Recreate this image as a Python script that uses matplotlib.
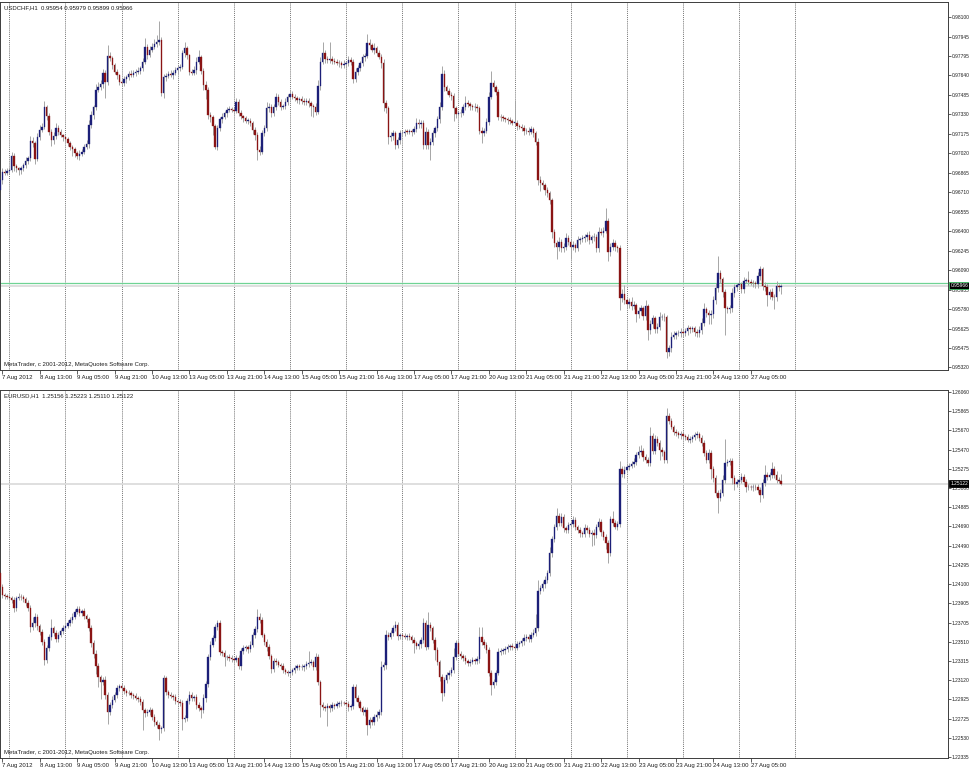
"""MetaTrader-style H1 candlestick panes for USDCHF and EURUSD, 7-27 Aug 2012."""

import matplotlib

matplotlib.use("Agg")
import matplotlib.pyplot as plt
import matplotlib.transforms as mtransforms
import numpy as np
import pandas as pd


# ---------------------------------------------------------------- data
FIRST_OPEN_CHF = 0.96729
CLOSE_CHF = [
    0.96808, 0.96874, 0.96866, 0.96882, 0.96888, 0.96999, 0.96919, 0.96901, 0.96888, 0.96901,
    0.96927, 0.96962, 0.96980, 0.97121, 0.97100, 0.96978, 0.97153, 0.97206, 0.97232, 0.97386,
    0.97317, 0.97192, 0.97126, 0.97158, 0.97224, 0.97192, 0.97166, 0.97147, 0.97131, 0.97100,
    0.97073, 0.97052, 0.97020, 0.96999, 0.97015, 0.97033, 0.97073, 0.97094, 0.97245, 0.97325,
    0.97386, 0.97524, 0.97545, 0.97571, 0.97661, 0.97590, 0.97794, 0.97775, 0.97722, 0.97669,
    0.97643, 0.97590, 0.97577, 0.97608, 0.97624, 0.97651, 0.97643, 0.97661, 0.97669, 0.97677,
    0.97696, 0.97749, 0.97868, 0.97802, 0.97842, 0.97868, 0.97889, 0.97908, 0.97921, 0.97497,
    0.97624, 0.97635, 0.97651, 0.97643, 0.97661, 0.97683, 0.97696, 0.97709, 0.97815, 0.97855,
    0.97802, 0.97669, 0.97661, 0.97683, 0.97749, 0.97783, 0.97677, 0.97563, 0.97524, 0.97325,
    0.97312, 0.97237, 0.97073, 0.97219, 0.97290, 0.97312, 0.97338, 0.97365, 0.97370, 0.97365,
    0.97359, 0.97431, 0.97343, 0.97317, 0.97298, 0.97280, 0.97280, 0.97264, 0.97206, 0.97166,
    0.97047, 0.97033, 0.97179, 0.97219, 0.97378, 0.97391, 0.97338, 0.97386, 0.97471, 0.97431,
    0.97391, 0.97396, 0.97431, 0.97465, 0.97492, 0.97471, 0.97457, 0.97444, 0.97449, 0.97439,
    0.97431, 0.97436, 0.97418, 0.97396, 0.97391, 0.97351, 0.97555, 0.97749, 0.97815, 0.97767,
    0.97762, 0.97767, 0.97757, 0.97749, 0.97741, 0.97736, 0.97722, 0.97730, 0.97736, 0.97762,
    0.97749, 0.97608, 0.97669, 0.97696, 0.97736, 0.97783, 0.97794, 0.97900, 0.97881, 0.97842,
    0.97855, 0.97820, 0.97789, 0.97736, 0.97418, 0.97378, 0.97147, 0.97158, 0.97179, 0.97086,
    0.97126, 0.97179, 0.97184, 0.97192, 0.97190, 0.97195, 0.97190, 0.97211, 0.97264, 0.97253,
    0.97264, 0.97086, 0.97192, 0.97086, 0.97113, 0.97179, 0.97219, 0.97290, 0.97386, 0.97651,
    0.97545, 0.97518, 0.97484, 0.97476, 0.97378, 0.97333, 0.97338, 0.97343, 0.97386, 0.97423,
    0.97412, 0.97396, 0.97386, 0.97391, 0.97378, 0.97200, 0.97184, 0.97200, 0.97272, 0.97471,
    0.97582, 0.97545, 0.97510, 0.97312, 0.97306, 0.97298, 0.97290, 0.97285, 0.97277, 0.97264,
    0.97264, 0.97237, 0.97232, 0.97224, 0.97195, 0.97200, 0.97192, 0.97211, 0.97179, 0.97113,
    0.96808, 0.96787, 0.96768, 0.96729, 0.96702, 0.96649, 0.96397, 0.96305, 0.96273, 0.96318,
    0.96265, 0.96278, 0.96344, 0.96318, 0.96278, 0.96291, 0.96265, 0.96331, 0.96336, 0.96344,
    0.96352, 0.96371, 0.96331, 0.96352, 0.96358, 0.96265, 0.96397, 0.96389, 0.96405, 0.96485,
    0.96238, 0.96278, 0.96310, 0.96273, 0.96265, 0.95867, 0.95902, 0.95854, 0.95822, 0.95841,
    0.95806, 0.95814, 0.95743, 0.95769, 0.95788, 0.95727, 0.95806, 0.95616, 0.95663, 0.95708,
    0.95621, 0.95642, 0.95716, 0.95722, 0.95716, 0.95443, 0.95470, 0.95563, 0.95576, 0.95589,
    0.95594, 0.95602, 0.95589, 0.95610, 0.95629, 0.95621, 0.95629, 0.95602, 0.95594, 0.95616,
    0.95674, 0.95780, 0.95748, 0.95735, 0.95743, 0.95854, 0.95947, 0.96071, 0.96018, 0.95920,
    0.95788, 0.95780, 0.95788, 0.95912, 0.95955, 0.95973, 0.95981, 0.95939, 0.96008, 0.96013,
    0.96000, 0.95992, 0.95987, 0.95981, 0.96045, 0.96098, 0.95965, 0.95955, 0.95894, 0.95920,
    0.95881, 0.95875, 0.95965, 0.95954, 0.95966,
]
# wick lengths beyond the body, in pips
UP_WICK_CHF = [
    1, 3, 2, 2, 2, 3, 2, 2, 1, 2, 2, 3, 2, 4, 3, 2, 3, 4, 3, 5,
    2, 2, 2, 3, 4, 2, 2, 1, 2, 2, 2, 1, 2, 2, 3, 2, 2, 3, 4, 3,
    2, 5, 4, 3, 3, 2, 9, 3, 2, 2, 2, 1, 2, 3, 2, 2, 3, 2, 2, 3,
    2, 3, 7, 2, 3, 3, 4, 5, 15, 2, 3, 2, 2, 3, 2, 2, 3, 2, 3, 5,
    2, 1, 2, 3, 4, 6, 2, 2, 3, 2, 2, 1, 2, 3, 2, 3, 2, 2, 3, 2,
    2, 3, 2, 2, 1, 2, 2, 2, 1, 2, 2, 3, 3, 3, 5, 3, 2, 3, 3, 2,
    2, 2, 3, 3, 3, 2, 2, 2, 2, 3, 2, 2, 2, 2, 2, 3, 5, 4, 9, 3,
    3, 14, 3, 2, 2, 2, 2, 3, 2, 3, 2, 2, 3, 3, 2, 3, 2, 7, 3, 2,
    4, 2, 2, 2, 3, 3, 2, 3, 3, 2, 2, 3, 2, 2, 2, 2, 2, 3, 4, 3,
    2, 2, 4, 2, 3, 3, 2, 3, 4, 6, 3, 2, 2, 2, 2, 2, 2, 3, 3, 5,
    2, 2, 2, 3, 2, 2, 3, 2, 3, 4, 9, 2, 2, 2, 2, 2, 1, 2, 2, 2,
    18, 2, 2, 2, 2, 2, 3, 3, 2, 2, 3, 3, 2, 2, 2, 2, 2, 2, 3, 4,
    2, 3, 4, 3, 2, 3, 2, 3, 2, 3, 3, 2, 3, 2, 3, 2, 4, 3, 3, 10,
    2, 3, 3, 2, 2, 3, 4, 7, 2, 3, 4, 3, 2, 3, 3, 2, 5, 2, 3, 3,
    2, 3, 4, 2, 3, 2, 3, 4, 3, 2, 2, 3, 2, 2, 3, 2, 2, 2, 2, 3,
    4, 5, 2, 3, 3, 3, 4, 13, 2, 2, 2, 2, 3, 4, 3, 2, 3, 2, 3, 2,
    7, 2, 2, 2, 3, 3, 2, 3, 3, 2, 3, 2, 4, 2, 1.3,
]
DOWN_WICK_CHF = [
    2, 3, 2, 2, 3, 2, 4, 3, 4, 3, 2, 2, 3, 2, 3, 4, 2, 3, 2, 2,
    3, 3, 5, 3, 2, 3, 2, 3, 2, 2, 3, 5, 3, 2, 3, 2, 2, 2, 3, 2,
    3, 2, 2, 2, 3, 13, 3, 2, 3, 2, 3, 3, 2, 2, 3, 2, 2, 2, 3, 2,
    3, 2, 2, 3, 2, 2, 2, 2, 3, 2, 4, 3, 2, 2, 3, 2, 3, 2, 2, 3,
    3, 3, 2, 2, 3, 2, 3, 4, 7, 3, 4, 7, 2, 3, 2, 3, 2, 3, 2, 2,
    3, 2, 3, 2, 3, 2, 3, 3, 3, 4, 8, 3, 2, 2, 2, 3, 3, 2, 2, 3,
    3, 2, 2, 3, 2, 2, 2, 2, 3, 3, 3, 3, 3, 8, 8, 3, 2, 3, 2, 3,
    2, 2, 3, 2, 2, 3, 2, 2, 3, 2, 3, 3, 2, 3, 2, 2, 3, 2, 3, 2,
    3, 3, 2, 4, 6, 4, 5, 3, 3, 3, 2, 3, 2, 3, 2, 2, 3, 2, 2, 3,
    3, 3, 3, 3, 12, 3, 3, 2, 3, 2, 3, 3, 2, 3, 10, 3, 2, 3, 2, 2,
    2, 3, 2, 3, 3, 3, 8, 3, 2, 3, 2, 3, 3, 3, 3, 2, 2, 3, 2, 2,
    2, 3, 2, 3, 3, 2, 3, 2, 3, 3, 4, 7, 3, 4, 3, 3, 5, 3, 9, 3,
    3, 3, 3, 3, 10, 3, 3, 2, 3, 2, 3, 3, 3, 2, 3, 3, 3, 2, 3, 2,
    7, 3, 3, 3, 3, 9, 3, 3, 3, 3, 3, 2, 6, 3, 3, 3, 3, 8, 3, 3,
    3, 3, 3, 2, 3, 5, 3, 3, 2, 3, 2, 3, 3, 2, 3, 3, 2, 3, 3, 3,
    3, 3, 3, 7, 7, 3, 3, 3, 3, 4, 21, 3, 3, 3, 3, 3, 3, 3, 3, 2,
    3, 2, 3, 3, 3, 3, 3, 3, 9, 3, 3, 9, 3, 3, 5.5,
]

FIRST_OPEN_EUR = 1.24209
CLOSE_EUR = [
    1.24073, 1.23988, 1.23978, 1.23971, 1.23954, 1.23937, 1.23852, 1.23954, 1.23971, 1.23964,
    1.23944, 1.23910, 1.23852, 1.23665, 1.23699, 1.23760, 1.23671, 1.23614, 1.23511, 1.23324,
    1.23443, 1.23563, 1.23648, 1.23597, 1.23535, 1.23580, 1.23624, 1.23648, 1.23671, 1.23705,
    1.23733, 1.23760, 1.23818, 1.23841, 1.23801, 1.23828, 1.23773, 1.23739, 1.23648, 1.23494,
    1.23386, 1.23263, 1.23154, 1.23103, 1.23120, 1.22967, 1.22797, 1.22865, 1.22916, 1.22967,
    1.23035, 1.23059, 1.23035, 1.23011, 1.22991, 1.22984, 1.22967, 1.22957, 1.22933, 1.22923,
    1.22899, 1.22814, 1.22780, 1.22797, 1.22814, 1.22746, 1.22695, 1.22661, 1.22617, 1.22627,
    1.23137, 1.23001, 1.22967, 1.22957, 1.22950, 1.22909, 1.22899, 1.22882, 1.22719, 1.22729,
    1.22909, 1.22967, 1.22933, 1.22943, 1.22865, 1.22831, 1.22814, 1.22933, 1.23079, 1.23358,
    1.23477, 1.23545, 1.23665, 1.23705, 1.23409, 1.23392, 1.23352, 1.23358, 1.23341, 1.23331,
    1.23324, 1.23341, 1.23263, 1.23420, 1.23443, 1.23460, 1.23433, 1.23477, 1.23580, 1.23637,
    1.23760, 1.23733, 1.23580, 1.23511, 1.23460, 1.23365, 1.23229, 1.23317, 1.23307, 1.23273,
    1.23263, 1.23220, 1.23205, 1.23188, 1.23205, 1.23220, 1.23239, 1.23263, 1.23249, 1.23256,
    1.23263, 1.23283, 1.23290, 1.23307, 1.23249, 1.23352, 1.23103, 1.22865, 1.22848, 1.22831,
    1.22855, 1.22831, 1.22865, 1.22855, 1.22875, 1.22882, 1.22889, 1.22882, 1.22875, 1.22848,
    1.22855, 1.23045, 1.22933, 1.22899, 1.22831, 1.22797, 1.22814, 1.22661, 1.22712, 1.22695,
    1.22746, 1.22763, 1.22797, 1.23256, 1.23273, 1.23580, 1.23563, 1.23597, 1.23648, 1.23682,
    1.23569, 1.23580, 1.23569, 1.23563, 1.23569, 1.23556, 1.23528, 1.23494, 1.23467, 1.23488,
    1.23528, 1.23699, 1.23460, 1.23682, 1.23648, 1.23528, 1.23426, 1.23307, 1.23154, 1.22984,
    1.23120, 1.23171, 1.23188, 1.23220, 1.23352, 1.23494, 1.23386, 1.23365, 1.23341, 1.23317,
    1.23290, 1.23307, 1.23324, 1.23317, 1.23331, 1.23563, 1.23511, 1.23477, 1.23426, 1.23195,
    1.23069, 1.23103, 1.23188, 1.23409, 1.23420, 1.23426, 1.23433, 1.23460, 1.23467, 1.23460,
    1.23443, 1.23488, 1.23501, 1.23522, 1.23545, 1.23556, 1.23542, 1.23580, 1.23597, 1.23648,
    1.24032, 1.24056, 1.24100, 1.24141, 1.24209, 1.24413, 1.24556, 1.24685, 1.24794, 1.24719,
    1.24787, 1.24668, 1.24651, 1.24702, 1.24712, 1.24753, 1.24678, 1.24651, 1.24624, 1.24610,
    1.24668, 1.24651, 1.24610, 1.24624, 1.24600, 1.24685, 1.24736, 1.24634, 1.24583, 1.24522,
    1.24420, 1.24760, 1.24726, 1.24685, 1.24712, 1.25270, 1.25223, 1.25263, 1.25291, 1.25304,
    1.25325, 1.25349, 1.25417, 1.25451, 1.25461, 1.25400, 1.25366, 1.25332, 1.25611, 1.25461,
    1.25576, 1.25542, 1.25468, 1.25451, 1.25366, 1.25815, 1.25767, 1.25706, 1.25655, 1.25638,
    1.25621, 1.25631, 1.25611, 1.25604, 1.25570, 1.25583, 1.25604, 1.25621, 1.25631, 1.25587,
    1.25542, 1.25434, 1.25366, 1.25440, 1.25270, 1.25178, 1.25025, 1.24974, 1.25025, 1.25161,
    1.25332, 1.25349, 1.25359, 1.25178, 1.25121, 1.25144, 1.25161, 1.25189, 1.25144, 1.25087,
    1.25093, 1.25087, 1.25093, 1.25087, 1.25059, 1.25008, 1.25127, 1.25212, 1.25195, 1.25212,
    1.25270, 1.25212, 1.25161, 1.25156, 1.25122,
]
UP_WICK_EUR = [
    2, 3, 2, 2, 3, 2, 3, 2, 4, 3, 2, 2, 3, 3, 6, 4, 3, 2, 3, 3,
    3, 3, 10, 2, 3, 3, 2, 3, 2, 3, 3, 4, 3, 3, 4, 2, 3, 2, 2, 3,
    3, 4, 3, 2, 3, 4, 3, 3, 4, 3, 3, 2, 3, 3, 2, 3, 2, 2, 3, 2,
    3, 3, 2, 3, 3, 2, 3, 2, 3, 2, 3, 2, 2, 3, 2, 3, 2, 3, 3, 3,
    3, 4, 3, 2, 3, 3, 2, 4, 3, 3, 4, 3, 3, 3, 3, 2, 3, 2, 3, 3,
    2, 3, 4, 3, 3, 2, 2, 4, 3, 3, 9, 4, 3, 2, 3, 3, 2, 3, 3, 2,
    2, 3, 2, 2, 3, 2, 3, 2, 2, 3, 2, 3, 13, 3, 2, 4, 3, 2, 3, 2,
    3, 2, 3, 2, 3, 2, 3, 2, 2, 3, 2, 4, 3, 3, 2, 2, 3, 3, 3, 3,
    3, 4, 3, 6, 3, 5, 3, 3, 3, 4, 3, 2, 2, 3, 2, 3, 2, 3, 2, 3,
    3, 5, 3, 13, 3, 2, 3, 3, 2, 3, 3, 3, 3, 3, 10, 4, 3, 3, 2, 3,
    2, 3, 3, 2, 3, 10, 10, 3, 3, 3, 3, 3, 3, 4, 3, 2, 3, 3, 2, 3,
    3, 3, 2, 3, 5, 3, 3, 3, 4, 15, 11, 3, 3, 4, 3, 6, 3, 3, 8, 3,
    4, 3, 2, 3, 3, 4, 3, 2, 3, 2, 4, 3, 3, 3, 4, 3, 4, 3, 2, 3,
    3, 3, 9, 3, 3, 9, 3, 4, 3, 3, 3, 4, 3, 6, 6, 3, 3, 3, 9, 3,
    4, 3, 3, 3, 2, 8, 3, 3, 2, 3, 2, 3, 3, 2, 3, 3, 2, 3, 3, 2,
    3, 3, 3, 4, 3, 3, 3, 3, 4, 5, 25, 3, 3, 3, 3, 3, 3, 4, 3, 3,
    3, 2, 3, 3, 3, 3, 4, 10, 3, 3, 8, 3, 4, 3, 6.7,
]
DOWN_WICK_EUR = [
    7, 3, 3, 2, 3, 3, 4, 3, 2, 3, 3, 3, 3, 5, 3, 4, 4, 3, 3, 5,
    3, 3, 3, 3, 3, 3, 2, 3, 3, 2, 3, 3, 2, 2, 3, 3, 3, 3, 3, 4,
    4, 8, 10, 18, 3, 4, 12, 3, 3, 2, 3, 3, 2, 3, 3, 2, 3, 3, 2, 3,
    3, 20, 4, 3, 3, 3, 4, 3, 11, 4, 3, 3, 3, 2, 3, 3, 3, 3, 11, 3,
    3, 3, 3, 3, 4, 3, 8, 3, 4, 3, 3, 2, 3, 3, 3, 3, 9, 3, 3, 3,
    3, 2, 3, 4, 3, 3, 4, 3, 2, 3, 3, 3, 2, 3, 4, 3, 4, 3, 3, 2,
    3, 3, 2, 3, 4, 3, 3, 2, 3, 3, 4, 3, 3, 2, 3, 3, 3, 12, 3, 3,
    18, 4, 3, 3, 2, 3, 3, 2, 3, 4, 3, 3, 3, 4, 3, 3, 4, 10, 3, 3,
    3, 4, 3, 3, 3, 4, 3, 2, 3, 3, 4, 3, 3, 2, 3, 3, 3, 10, 3, 3,
    4, 3, 3, 2, 3, 3, 10, 3, 4, 8, 3, 3, 4, 3, 3, 3, 2, 3, 3, 3,
    3, 3, 2, 3, 3, 4, 3, 3, 3, 3, 10, 3, 3, 2, 3, 3, 4, 3, 3, 3,
    3, 2, 3, 3, 4, 3, 3, 3, 2, 3, 3, 3, 3, 4, 3, 3, 4, 3, 3, 3,
    3, 4, 3, 3, 2, 3, 3, 3, 4, 3, 3, 3, 3, 12, 10, 3, 3, 4, 3, 6,
    11, 3, 3, 2, 3, 3, 3, 4, 3, 3, 2, 3, 3, 3, 3, 4, 3, 3, 3, 3,
    3, 3, 10, 4, 3, 3, 3, 2, 3, 3, 3, 4, 3, 3, 2, 3, 3, 3, 3, 3,
    3, 3, 3, 3, 10, 4, 3, 15, 3, 3, 3, 3, 3, 6, 6, 3, 3, 3, 3, 5,
    3, 3, 4, 3, 3, 7, 3, 3, 3, 3, 3, 3, 3, 3, 1.2,
]

SYMBOLS = ["USDCHF", "EURUSD"]
ASK_CHF = 0.95987  # green ask line on the USDCHF pane

PRICE_TICKS_CHF = [
    0.98100, 0.97945, 0.97795, 0.97640, 0.97485, 0.97330, 0.97175, 0.97020, 0.96865, 0.96710,
    0.96555, 0.96400, 0.96245, 0.96090, 0.95935, 0.95780, 0.95625, 0.95475, 0.95320,
]
PRICE_TICKS_EUR = [
    1.26060, 1.25865, 1.25670, 1.25470, 1.25275, 1.25080, 1.24885, 1.24690, 1.24490, 1.24295,
    1.24100, 1.23905, 1.23705, 1.23510, 1.23315, 1.23120, 1.22925, 1.22725, 1.22530, 1.22335,
]

# ---------------------------------------------------------------- style
BULL = "#1c1f78"
BEAR = "#8a1414"
WICK = "#a6a6a6"
SEP = "#4a4a4a"
TEXT = "#1e1e1e"
FS = 4.3        # chart texts and time scale
FS_PRICE = 3.5  # price scale, so the 7-char labels fit in the 22 px margin
PIP = 0.0001

# pixel layout of the 970x768 canvas: (top y, height) of each pane
PANES_PX = [(2, 368), (390, 368)]
PANE_W_PX = 948
XLIM = (0.02, 405.3)
YLIMS = [(0.95298, 0.98223), (1.22325, 1.26080)]


def bar_times() -> pd.DatetimeIndex:
    t = pd.date_range("2012-08-07 20:00", "2012-08-27 18:00", freq="h")
    return t[t.dayofweek < 5]


def ohlc(first_open, closes, up, down):
    c = np.asarray(closes, dtype=float)
    o = np.concatenate([[first_open], c[:-1]])
    hi = np.maximum(o, c) + np.asarray(up, dtype=float) * PIP
    lo = np.minimum(o, c) - np.asarray(down, dtype=float) * PIP
    return o, hi, lo, c


def draw_pane(ax, times, o, hi, lo, c, ylim, ticks, header, ask=None):
    idx = np.arange(len(c))
    ax.set_xlim(*XLIM)
    ax.set_ylim(*ylim)
    ax.set_facecolor("white")

    # period separators: each midnight, plus the next one after the last bar
    seps = list(np.flatnonzero(times.hour == 0))
    seps.append(len(times) - 1 + (24 - times[-1].hour))
    for s in seps:
        ax.axvline(s, color=SEP, lw=0.6, ls=(0, (1, 1.3)), zorder=1)

    # bid line and optional ask line
    ax.axhline(c[-1], color="#dcdcdc", lw=1.3, zorder=1)
    if ask is not None:
        ax.axhline(ask, color="#6fd394", lw=0.9, zorder=1.5)

    px = (ylim[1] - ylim[0]) / 368.0
    ax.vlines(idx, lo, hi, color=WICK, lw=0.7, zorder=2)
    colors = np.where(c >= o, BULL, BEAR)
    body = np.maximum(np.abs(c - o), 0.7 * px)
    ax.bar(idx, body, bottom=np.minimum(o, c), width=0.62, color=colors,
           edgecolor=colors, linewidth=0.25, zorder=3)

    ax.yaxis.tick_right()
    ax.set_yticks(ticks)
    ax.set_yticklabels([f"{v:.5f}" for v in ticks])
    ax.tick_params(axis="y", direction="out", length=2.0, width=0.5, pad=0.7,
                   labelsize=FS_PRICE, colors=TEXT)

    lab_idx = list(range(1, len(times), 16))
    labels = []
    for k in lab_idx:
        t = times[k]
        labels.append(f"{t.day} {t:%b} {t:%Y}" if k == lab_idx[0] else f"{t.day} {t:%b %H:%M}")
    ax.set_xticks(lab_idx)
    ax.set_xticklabels(labels)
    ax.tick_params(axis="x", direction="out", length=3.0, width=0.5, pad=0.8,
                   labelsize=FS, colors=TEXT)
    for lab in ax.get_xticklabels():
        lab.set_horizontalalignment("left")

    for side in ["top", "right", "bottom", "left"]:
        ax.spines[side].set_color("#3c3c3c")
        ax.spines[side].set_linewidth(0.7)

    ax.text(0.004, 0.984, header, transform=ax.transAxes, fontsize=FS, color=TEXT,
            ha="left", va="center")
    ax.text(0.004, 0.016, "MetaTrader, c 2001-2012, MetaQuotes Software Corp.",
            transform=ax.transAxes, fontsize=FS, color=TEXT, ha="left", va="center")

    # current price marker on the price scale
    trans = mtransforms.blended_transform_factory(ax.transAxes, ax.transData)
    ax.text(1.0025, c[-1], f"{c[-1]:.5f}", transform=trans, fontsize=FS_PRICE,
            color="white", ha="left", va="center", clip_on=False, zorder=6,
            bbox=dict(boxstyle="square,pad=0.2", fc="black",
                      ec="#3cbf62" if ask is not None else "black", lw=0.6))


def main():
    plt.rcParams["font.family"] = ["Liberation Sans", "DejaVu Sans"]
    fig = plt.figure(figsize=(9.7, 7.68), dpi=100)
    fig.patch.set_facecolor("white")
    times = bar_times()

    series = [
        (FIRST_OPEN_CHF, CLOSE_CHF, UP_WICK_CHF, DOWN_WICK_CHF, PRICE_TICKS_CHF, ASK_CHF),
        (FIRST_OPEN_EUR, CLOSE_EUR, UP_WICK_EUR, DOWN_WICK_EUR, PRICE_TICKS_EUR, None),
    ]
    for (top, h), sym, ylim, (fo, cl, up, dn, ticks, ask) in zip(PANES_PX, SYMBOLS, YLIMS, series):
        ax = fig.add_axes([0, 1 - (top + h) / 768, PANE_W_PX / 970, h / 768])
        o, hi, lo, c = ohlc(fo, cl, up, dn)
        header = f"{sym},H1  {o[-1]:.5f} {hi[-1]:.5f} {lo[-1]:.5f} {c[-1]:.5f}"
        draw_pane(ax, times, o, hi, lo, c, ylim, ticks, header, ask)

    fig.savefig("out.png", dpi=100, facecolor="white")
    plt.close(fig)


if __name__ == "__main__":
    main()
